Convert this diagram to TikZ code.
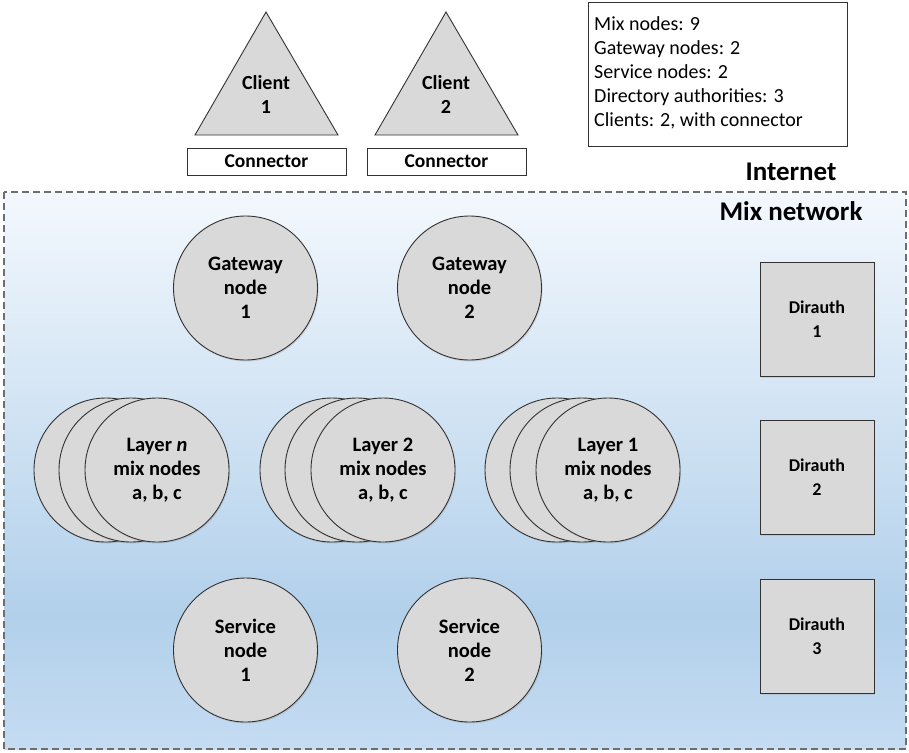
\documentclass[tikz,border=0pt]{standalone}
\usepackage{fontspec}
\setmainfont{Carlito}
\usetikzlibrary{shadows}
\definecolor{shapefill}{RGB}{217,217,217}
\definecolor{shapeline}{RGB}{50,50,50}
\definecolor{dashline}{RGB}{110,110,110}
\definecolor{bgtop}{RGB}{243,248,253}
\definecolor{bgmid}{RGB}{178,208,235}
\definecolor{bgbot}{RGB}{197,220,242}
\pgfdeclareverticalshading{mixbg}{100bp}{color(0bp)=(bgbot); color(25bp)=(bgbot); color(37bp)=(bgmid); color(75bp)=(bgtop); color(100bp)=(bgtop)}
\tikzset{
  nodecircle/.style={circle, draw=shapeline, fill=shapefill, line width=0.9pt, minimum size=144pt, inner sep=0pt,
     align=center, font=\fontsize{20.5}{24}\selectfont\bfseries,
     drop shadow={shadow xshift=1pt, shadow yshift=-1.5pt, opacity=0.25}},
  mixcircle/.style={nodecircle},
  dirbox/.style={draw=shapeline, fill=shapefill, line width=0.9pt, minimum width=114pt, minimum height=114pt, inner sep=0pt,
     align=center, font=\fontsize{18}{24}\selectfont\bfseries,
     drop shadow={shadow xshift=1pt, shadow yshift=-1.5pt, opacity=0.2}},
  connbox/.style={draw=shapeline, fill=white, line width=0.8pt, minimum width=159pt, minimum height=27pt, inner sep=0pt,
     font=\fontsize{19.5}{20}\selectfont\bfseries},
  clienttri/.style={draw=shapeline, fill=shapefill, line width=0.9pt},
  cliettext/.style={align=center, font=\fontsize{20}{24}\selectfont\bfseries},
  headtext/.style={font=\fontsize{27}{30}\selectfont\bfseries},
}
\begin{document}
\begin{tikzpicture}[x=1pt,y=-1pt]
\useasboundingbox (0,0) rectangle (909,752);
% mix network area
\shade[shading=mixbg] (4,192) rectangle (906,749);
\draw[dashline, line width=1.2pt, dash pattern=on 7pt off 4pt] (4,192) rectangle (906,749);
\node[headtext] (internet) at (791,172) {Internet};
\node[headtext] (mixnet) at (791,211) {Mix network};
% legend
\node[draw=shapeline, line width=0.8pt, fill=white, minimum width=259pt, minimum height=144pt, inner sep=0pt] (legendbox) at (717.5,74) {};
\node[anchor=west, align=left, font=\fontsize{20}{24}\selectfont, inner sep=0pt] (legend) at (594,73)
 {Mix nodes: 9\\Gateway nodes: 2\\Service nodes: 2\\Directory authorities: 3\\Clients: 2, with connector};
% clients
\draw[clienttri] (266,12) -- (338,135) -- (195,135) -- cycle;
\node[cliettext] (client1) at (266,94) {Client\\1};
\draw[clienttri] (446,12) -- (518,135) -- (375,135) -- cycle;
\node[cliettext] (client2) at (446,94) {Client\\2};
\node[connbox] (conn1) at (266.5,161.5) {Connector};
\node[connbox] (conn2) at (446.5,161.5) {Connector};
% gateway nodes
\node[nodecircle] (gw1) at (245.5,288) {Gateway\\node\\1};
\node[nodecircle] (gw2) at (469.5,288) {Gateway\\node\\2};
% mix layers
\node[mixcircle] (ln-c) at (106,470) {};
\node[mixcircle] (ln-b) at (131,470) {};
\node[mixcircle] (ln-a) at (157,470) {Layer \textit{n}\\mix nodes\\a, b, c};
\node[mixcircle] (l2-c) at (332,470) {};
\node[mixcircle] (l2-b) at (357,470) {};
\node[mixcircle] (l2-a) at (383,470) {Layer 2\\mix nodes\\a, b, c};
\node[mixcircle] (l1-c) at (557,470) {};
\node[mixcircle] (l1-b) at (582,470) {};
\node[mixcircle] (l1-a) at (608,470) {Layer 1\\mix nodes\\a, b, c};
% service nodes
\node[nodecircle] (sv1) at (245.5,650) {Service\\node\\1};
\node[nodecircle] (sv2) at (469.5,650) {Service\\node\\2};
% directory authorities
\node[dirbox] (da1) at (817,319) {Dirauth\\1};
\node[dirbox] (da2) at (817,477.5) {Dirauth\\2};
\node[dirbox] (da3) at (817,636) {Dirauth\\3};
\end{tikzpicture}
\end{document}
